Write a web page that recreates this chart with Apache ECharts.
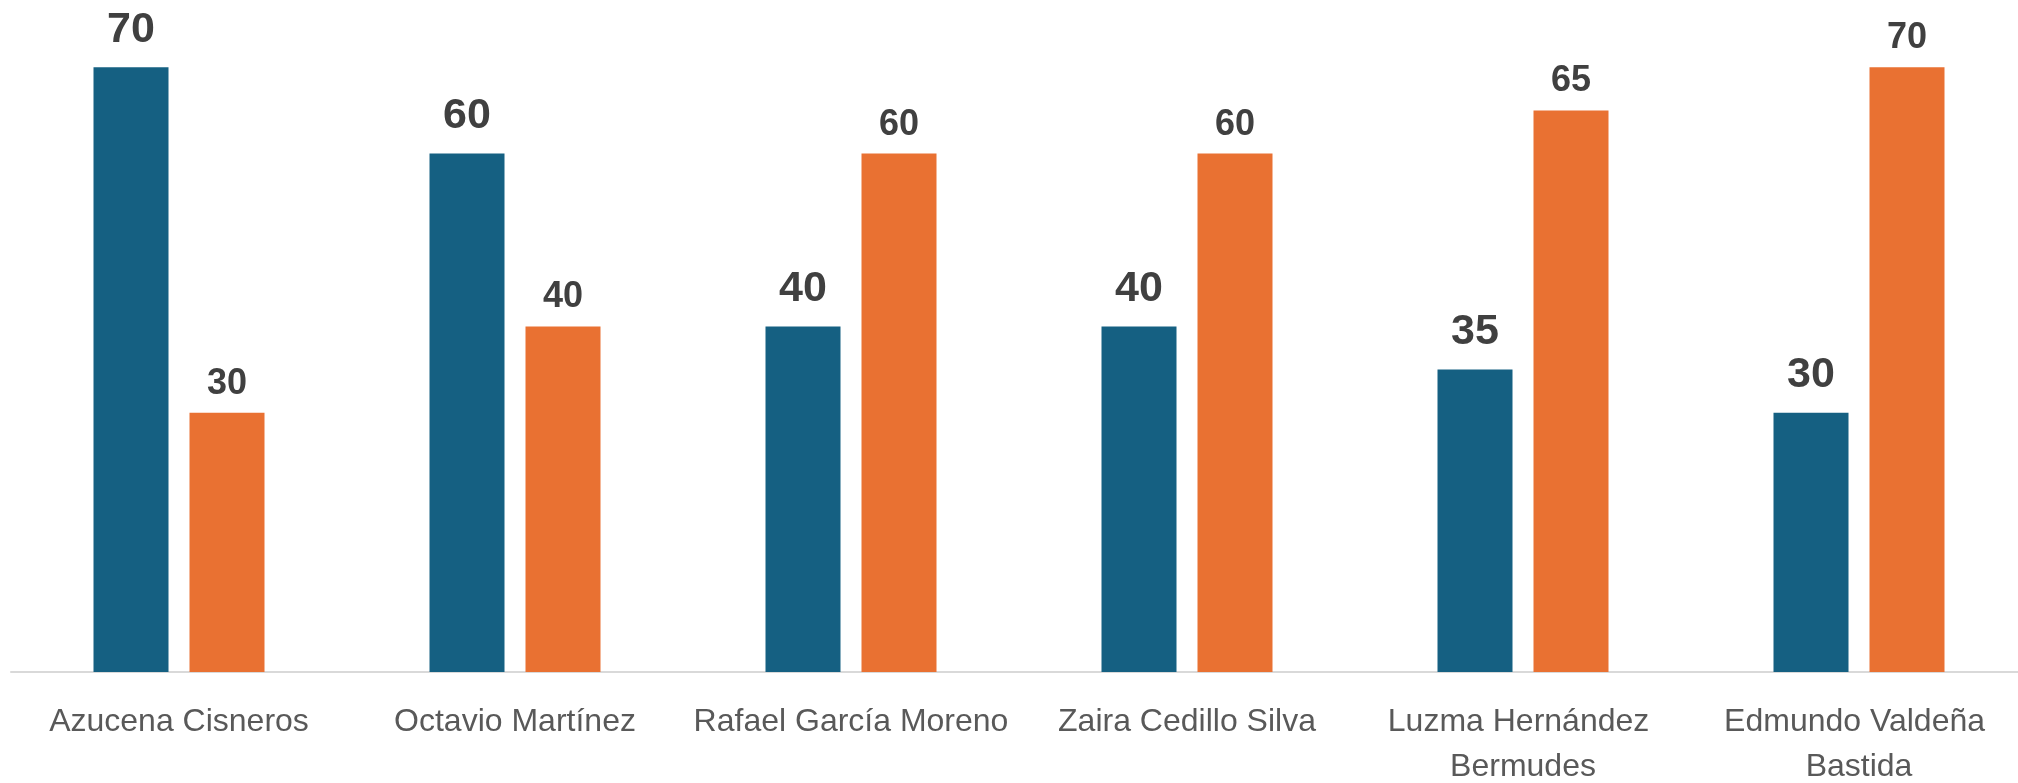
<!DOCTYPE html>
<html>
<head>
<meta charset="utf-8">
<script src="https://cdn.jsdelivr.net/npm/echarts@6/dist/echarts.min.js"></script>
<style>
  html, body { margin: 0; padding: 0; background: #fff; }
  #chart { width: 2018px; height: 783px; }
</style>
</head>
<body>
<div id="chart"></div>
<script>
  // datos
  const categories = [
    'Azucena Cisneros',
    'Octavio Martínez',
    'Rafael García Moreno',
    'Zaira Cedillo Silva',
    'Luzma Hernández Bermudes',
    'Edmundo Valdeña Bastida'
  ];
  const serieAzul = [70, 60, 40, 40, 35, 30];
  const serieNaranja = [30, 40, 60, 60, 65, 70];

  const chart = echarts.init(document.getElementById('chart'));

  chart.setOption({
    backgroundColor: '#ffffff',
    animation: false,
    grid: { left: 11, width: 2016, top: 24, height: 648, outerBoundsMode: 'none', containLabel: false },
    xAxis: {
      type: 'category',
      data: categories,
      axisLine: { lineStyle: { color: '#d9d9d9', width: 2 } },
      axisTick: { show: false },
      axisLabel: {
        interval: 0,
        color: '#595959',
        fontFamily: 'Liberation Sans',
        fontSize: 32,
        lineHeight: 45,
        margin: 28,
        width: 350,
        overflow: 'break'
      }
    },
    yAxis: {
      type: 'value',
      min: 0,
      max: 75,
      show: false,
      splitLine: { show: false }
    },
    series: [
      {
        type: 'bar',
        data: serieAzul,
        barWidth: 75,
        barGap: '28%',
        itemStyle: { color: '#156082' },
        label: {
          show: true,
          position: 'top',
          distance: 16,
          color: '#404040',
          fontFamily: 'Liberation Sans',
          fontWeight: 'bold',
          fontSize: 43
        }
      },
      {
        type: 'bar',
        data: serieNaranja,
        barWidth: 75,
        itemStyle: { color: '#e97132' },
        label: {
          show: true,
          position: 'top',
          distance: 11,
          color: '#404040',
          fontFamily: 'Liberation Sans',
          fontWeight: 'bold',
          fontSize: 36
        }
      }
    ]
  });
</script>
</body>
</html>
